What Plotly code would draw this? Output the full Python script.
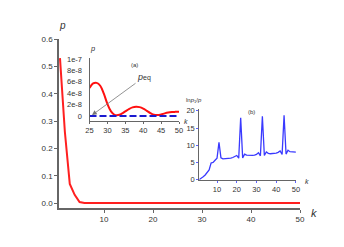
import plotly.graph_objects as go

# Main panel: p vs k
k_main = list(range(1, 51))
p_main = [0.53, 0.26, 0.07, 0.03, 0.004] + [0.0005, 0.0002, 0.0001] + [0.00005] * 42

# Inset (a): p vs k for k = 25..50 (units of 1e-8)
k_a = list(range(25, 51))
p_a_e8 = [4.9, 5.7, 5.8, 5.3, 3.9, 2.1, 0.8, 0.2, 0.15, 0.4, 0.8, 1.2, 1.5,
          1.62, 1.55, 1.3, 0.9, 0.5, 0.2, 0.15, 0.25, 0.45, 0.6, 0.68, 0.72, 0.75]
p_a = [v * 1e-8 for v in p_a_e8]
peq = [0.0] * len(k_a)

# Inset (b): ln p1/p vs k
k_b = list(range(1, 51))
lnp_b = [0.0, 0.3, 0.8, 1.3, 2.0, 2.8, 4.8, 5.0, 5.6, 6.2,
         10.8, 6.3, 6.0, 6.0, 6.0, 6.1, 6.2, 6.4, 6.8, 7.0,
         6.2, 18.0, 6.3, 7.4, 7.1, 7.0, 7.0, 7.0, 7.1, 7.3,
         7.8, 6.9, 18.4, 7.0, 8.0, 7.6, 7.5, 7.5, 7.6, 7.7,
         7.9, 8.3, 7.3, 18.7, 7.4, 8.5, 8.1, 8.0, 7.9, 8.0]

main_ticks_y = [0.0, 0.1, 0.2, 0.3, 0.4, 0.5, 0.6]
main_ticks_x = [10, 20, 30, 40, 50]
a_ticks_y = [0, 2e-8, 4e-8, 6e-8, 8e-8, 1e-7]
a_ticklabels_y = ["0", "2e-8", "4e-8", "6e-8", "8e-8", "1e-7"]
a_ticks_x = [25, 30, 35, 40, 45, 50]
b_ticks_y = [0, 5, 10, 15, 20]
b_ticks_x = [10, 20, 30, 40, 50]

FONT = "Liberation Sans, Arial, sans-serif"
TXT = "#333333"
AX = "#666666"

fig = go.Figure()
fig.add_trace(go.Scatter(x=k_main, y=p_main, mode="lines",
                         line=dict(color="#ff2020", width=2), xaxis="x", yaxis="y"))
fig.add_trace(go.Scatter(x=k_a, y=p_a, mode="lines", line_shape="spline",
                         line=dict(color="#ff1010", width=2), xaxis="x2", yaxis="y2"))
fig.add_trace(go.Scatter(x=k_a, y=peq, mode="lines",
                         line=dict(color="#1a1ad0", width=2, dash="7px,3px"), xaxis="x2", yaxis="y2"))
fig.add_trace(go.Scatter(x=k_b, y=lnp_b, mode="lines",
                         line=dict(color="#3a3aff", width=1.3), xaxis="x3", yaxis="y3"))

common = dict(showgrid=False, zeroline=False, showline=True, linecolor=AX,
              tickfont=dict(family=FONT, color=TXT))

fig.update_layout(
    width=344, height=247,
    margin=dict(l=59, r=44, t=39, b=39),
    paper_bgcolor="white", plot_bgcolor="rgba(0,0,0,0)",
    showlegend=False,
    xaxis=dict(**common, domain=[0, 1], range=[0.8, 50], tickvals=main_ticks_x,
               ticks="outside", ticklen=3, tickcolor=AX, linewidth=1.5,
               tickfont_size=8, anchor="y"),
    yaxis=dict(**common, domain=[0, 1], range=[-0.018, 0.6], tickvals=main_ticks_y,
               tickformat=".1f", ticks="outside", ticklen=3, tickcolor=AX, linewidth=1.5,
               tickfont_size=8, anchor="x"),
    xaxis2=dict(**common, domain=[0.1266, 0.498], range=[25, 50], tickvals=a_ticks_x,
                ticks="outside", ticklen=2, tickcolor=AX, tickfont_size=7.5, anchor="y2"),
    yaxis2=dict(**common, domain=[0.515, 0.888], range=[-0.88e-8, 1.018e-7],
                tickvals=a_ticks_y, ticktext=a_ticklabels_y, ticks="",
                ticklabelstandoff=5, tickfont_size=7.5, anchor="x2"),
    xaxis3=dict(**common, domain=[0.582, 0.983], range=[1, 50], tickvals=b_ticks_x,
                ticks="outside", ticklen=2, tickcolor="#6060ff", tickfont_size=7.5, anchor="y3"),
    yaxis3=dict(**common, domain=[0.1657, 0.587], range=[-0.15, 20.6], tickvals=b_ticks_y,
                ticks="outside", ticklen=2, tickcolor="#6060ff", tickfont_size=7.5, anchor="x3"),
)

def px(xp):
    return (xp - 59) / 241.0

def py(yp):
    return (208 - yp) / 169.0

labels = [
    ("<i>p</i>", 62, 25, 10),
    ("<i>k</i>", 314, 213, 11),
    ("<i>p</i>", 92, 49, 7.5),
    ("(a)", 134, 65, 6),
    ("<i>k</i>", 186, 121, 7),
    ("ln<i>p</i><sub>1</sub>/<i>p</i>", 194, 100, 6),
    ("(b)", 251, 112, 6),
    ("<i>k</i>", 307, 181, 7),
]
for t, x, y, s in labels:
    fig.add_annotation(text=t, x=px(x), y=py(y), xref="paper", yref="paper",
                       showarrow=False, xanchor="center", yanchor="middle",
                       font=dict(family=FONT, size=s, color=TXT))

fig.add_annotation(text="<i>p</i><span style='font-size:7px'>eq</span>",
                   x=25.7, y=0.15e-8, xref="x2", yref="y2",
                   showarrow=True, ax=52, ay=-38, arrowhead=2, arrowsize=1.2,
                   arrowwidth=0.8, arrowcolor="#777777",
                   font=dict(family=FONT, size=9, color=TXT))

fig.write_html("out.html", config={"displayModeBar": False},
               post_script="document.body.style.margin='0';document.body.style.overflow='hidden';")
